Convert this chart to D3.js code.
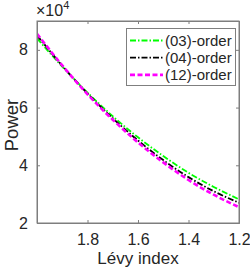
<!DOCTYPE html>
<html><head><meta charset="utf-8">
<script src="https://cdn.jsdelivr.net/npm/d3@7"></script>
<style>body{margin:0;background:#fff;}svg{display:block;font-family:Arial,"Liberation Sans",sans-serif;}</style>
</head><body>
<script>
const levy = [2.0, 1.9, 1.8, 1.7, 1.6, 1.5, 1.4, 1.3, 1.2];
const order03 = [8.40, 7.42, 6.52, 5.70, 4.97, 4.32, 3.74, 3.25, 2.82];
const order04 = [8.50, 7.45, 6.49, 5.63, 4.86, 4.18, 3.59, 3.10, 2.70];
const order12 = [8.56, 7.46, 6.46, 5.58, 4.79, 4.10, 3.49, 2.98, 2.55];
const xTicks = [1.8, 1.6, 1.4, 1.2];
const yTicks = [2, 4, 6, 8];
const seriesNames = ["(03)-order", "(04)-order", "(12)-order"];

const W = 250, H = 271;
const L = 37, R = 239, T = 21, B = 223;
const svg = d3.select("body").append("svg").attr("width", W).attr("height", H);
const x = d3.scaleLinear().domain([2.0, 1.2]).range([L, R]);
const y = d3.scaleLinear().domain([2, 9]).range([B, T]);
const axisColor = "#7f7f7f";
const textColor = "#262626";
const FF = "Arial, 'Liberation Sans', sans-serif";

const series = [
  {name: seriesNames[0], vals: order03, color: "#00ff00", dash: "6,2,1.5,2", w: 1.8},
  {name: seriesNames[1], vals: order04, color: "#000000", dash: "6,2,1.5,2", w: 1.8},
  {name: seriesNames[2], vals: order12, color: "#ff00ff", dash: "5,2.5", w: 2.6}
];

svg.append("clipPath").attr("id","c").append("rect")
  .attr("x", L).attr("y", T).attr("width", R-L).attr("height", B-T);

const line = d3.line().x((d,i)=>x(levy[i])).y(d=>y(d)).curve(d3.curveMonotoneX);
const g = svg.append("g").attr("clip-path","url(#c)");
series.forEach(s => {
  g.append("path").attr("d", line(s.vals)).attr("fill","none")
   .attr("stroke", s.color).attr("stroke-width", s.w).attr("stroke-dasharray", s.dash);
});

const tl = 3;
const xb = svg.append("g").attr("transform",`translate(0,${B})`)
  .call(d3.axisBottom(x).tickValues(xTicks).tickSize(-tl).tickPadding(6).tickFormat(d3.format(".1f")));
const xt = svg.append("g").attr("transform",`translate(0,${T})`)
  .call(d3.axisTop(x).tickValues(xTicks).tickSize(-tl).tickFormat(""));
const yl = svg.append("g").attr("transform",`translate(${L},0)`)
  .call(d3.axisLeft(y).tickValues(yTicks).tickSize(-tl).tickPadding(9).tickFormat(d3.format("d")));
const yr = svg.append("g").attr("transform",`translate(${R},0)`)
  .call(d3.axisRight(y).tickValues(yTicks).tickSize(-tl).tickFormat(""));
[xb, xt, yl, yr].forEach(a => {
  a.selectAll(".domain").attr("stroke", axisColor).attr("stroke-width", 1);
  a.selectAll(".tick line").attr("stroke", axisColor);
  a.selectAll("text").attr("fill", textColor).style("font-size","16px").style("font-family", FF);
});
xb.selectAll("text").attr("dy","1.0em");

svg.append("rect").attr("x", L).attr("y", T).attr("width", R-L).attr("height", B-T)
  .attr("fill","none").attr("stroke", axisColor).attr("stroke-width",1);

svg.append("text").attr("x", (L+R)/2).attr("y", 264).attr("text-anchor","middle")
  .attr("fill", textColor).style("font-size","17px").text("Lévy index");
svg.append("text").attr("transform","translate(18,125) rotate(-90)").attr("text-anchor","middle")
  .attr("fill", textColor).style("font-size","18.5px").text("Power");
const ex = svg.append("text").attr("x", 36).attr("y", 16).attr("fill", textColor).style("font-size","16px");
ex.append("tspan").text("\u00d710");
ex.append("tspan").attr("dy", -7).style("font-size","11px").text("4");

const lg = svg.append("g");
lg.append("rect").attr("x", 126.5).attr("y", 28.5).attr("width", 109).attr("height", 57)
  .attr("fill","#fff").attr("stroke", axisColor).attr("stroke-width",1);
series.forEach((s,i) => {
  const yy = 40.5 + i*17.2;
  lg.append("line").attr("x1", 130).attr("x2", 163).attr("y1", yy).attr("y2", yy)
    .attr("stroke", s.color).attr("stroke-width", s.w).attr("stroke-dasharray", s.dash);
  lg.append("text").attr("x", 165).attr("y", yy + 5.5).attr("fill", textColor)
    .style("font-size","15px").text(s.name);
});
</script>
</body></html>
